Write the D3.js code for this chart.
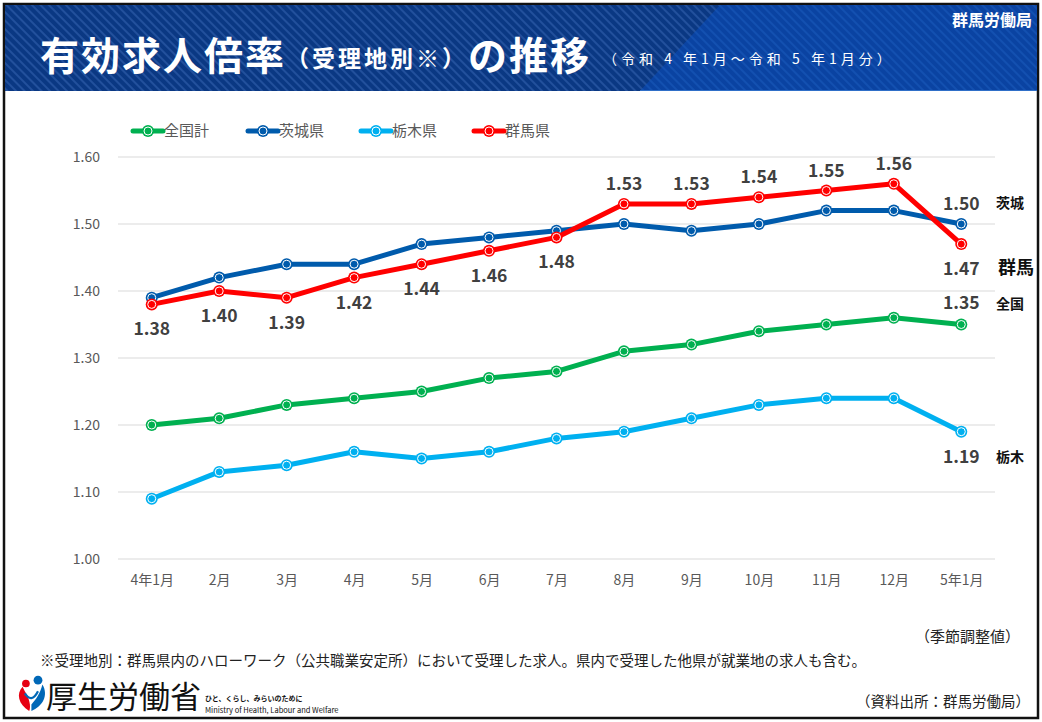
<!DOCTYPE html>
<html><head><meta charset="utf-8">
<script src="https://cdn.jsdelivr.net/npm/d3@7"></script>
<style>
html,body{margin:0;padding:0;background:#fff;}
svg{display:block;font-family:"Noto Sans CJK JP","Noto Sans",sans-serif;}
</style></head>
<body><svg id="c" width="1042" height="722"></svg>
<script>
const months = ["4年1月","2月","3月","4月","5月","6月","7月","8月","9月","10月","11月","12月","5年1月"];
const seriesNames = ["全国計","茨城県","栃木県","群馬県"];
const zenkoku = [1.20,1.21,1.23,1.24,1.25,1.27,1.28,1.31,1.32,1.34,1.35,1.36,1.35];
const ibaraki = [1.39,1.42,1.44,1.44,1.47,1.48,1.49,1.50,1.49,1.50,1.52,1.52,1.50];
const tochigi = [1.09,1.13,1.14,1.16,1.15,1.16,1.18,1.19,1.21,1.23,1.24,1.24,1.19];
const gunma   = [1.38,1.40,1.39,1.42,1.44,1.46,1.48,1.53,1.53,1.54,1.55,1.56,1.47];
const yTicks = [1.00,1.10,1.20,1.30,1.40,1.50,1.60];
const colors = ["#00B050","#005BAC","#00B0F0","#FF0000"];
const endNames = ["全国","茨城","栃木","群馬"];
// label placement for gunma: -1 below, 1 above
const gunmaLabelPos = [-1,-1,-1,-1,-1,-1,-1,1,1,1,1,1,-1];

const svg = d3.select("#c");
// frame
svg.append("rect").attr("x",4).attr("y",4).attr("width",1034).attr("height",714)
  .attr("fill","#fff").attr("stroke","#111").attr("stroke-width",2.5);

// header
const defs = svg.append("defs");
const pat = defs.append("pattern").attr("id","stripes").attr("patternUnits","userSpaceOnUse")
  .attr("width",6).attr("height",6).attr("patternTransform","rotate(-45)");
pat.append("rect").attr("width",6).attr("height",6).attr("fill","#0A3883");
pat.append("line").attr("x1",1).attr("y1",0).attr("x2",1).attr("y2",6).attr("stroke","#22509C").attr("stroke-width",2);
const pat2 = defs.append("pattern").attr("id","stripes2").attr("patternUnits","userSpaceOnUse")
  .attr("width",6).attr("height",6).attr("patternTransform","rotate(-45)");
pat2.append("rect").attr("width",6).attr("height",6).attr("fill","#0A43A2");
pat2.append("line").attr("x1",1).attr("y1",0).attr("x2",1).attr("y2",6).attr("stroke","#1350B0").attr("stroke-width",2);
svg.append("rect").attr("x",5).attr("y",5).attr("width",1032).attr("height",86).attr("fill","url(#stripes)");
svg.append("path").attr("d","M720,5 L1037,5 L1037,91 L640,91 Z").attr("fill","url(#stripes2)");
svg.append("line").attr("x1",640).attr("x2",1037).attr("y1",90.5).attr("y2",90.5).attr("stroke","#2f6fc8").attr("stroke-width",1);

const title = svg.append("text").attr("x",40).attr("y",70).attr("fill","#fff").attr("font-weight","bold");
title.append("tspan").attr("font-size",39).attr("letter-spacing",2).text("有効求人倍率");
title.append("tspan").attr("font-size",23).attr("letter-spacing",3).attr("dx",0).attr("dy",-3).text("（受理地別※）");
title.append("tspan").attr("font-size",39).attr("letter-spacing",2).attr("dy",3).text("の推移");
title.append("tspan").attr("font-size",14).attr("font-weight","normal").attr("dx",12).attr("letter-spacing",4).attr("dy",-6).text("（令和 4 年1月～令和 5 年1月分）");
svg.append("text").attr("x",1032).attr("y",26).attr("text-anchor","end").attr("fill","#fff")
  .attr("font-weight","bold").attr("font-size",16).text("群馬労働局");

// scales
const x = d3.scalePoint().domain(months).range([118,995]).padding(0.5);
const y = d3.scaleLinear().domain([1.0,1.6]).range([559,157]);

// grid
svg.append("g").selectAll("line").data(yTicks).join("line")
  .attr("x1",118).attr("x2",995).attr("y1",d=>y(d)).attr("y2",d=>y(d))
  .attr("stroke","#D9D9D9").attr("stroke-width",1);

// y axis
const yAxis = d3.axisLeft(y).tickValues(yTicks).tickFormat(d3.format(".2f")).tickSize(0).tickPadding(0);
const yg = svg.append("g").attr("transform","translate(100,0)").call(yAxis);
yg.select(".domain").remove();
yg.selectAll("text").attr("font-size",14).attr("fill","#595959").attr("font-family","'Noto Sans CJK JP',sans-serif");

// x axis
const xAxis = d3.axisBottom(x).tickSize(0).tickPadding(0);
const xg = svg.append("g").attr("transform","translate(0,575)").call(xAxis);
xg.select(".domain").remove();
xg.selectAll("text").attr("font-size",14).attr("fill","#595959").attr("font-family","'Noto Sans CJK JP',sans-serif");

// lines
const allSeries = [zenkoku,ibaraki,tochigi,gunma];
const line = d3.line().x((d,i)=>x(months[i])).y(d=>y(d));
allSeries.forEach((s,k)=>{
  const g = svg.append("g");
  g.append("path").attr("d",line(s)).attr("fill","none").attr("stroke",colors[k])
    .attr("stroke-width",5).attr("stroke-linejoin","round");
  g.selectAll("circle.o").data(s).join("circle").attr("class","o")
    .attr("cx",(d,i)=>x(months[i])).attr("cy",d=>y(d)).attr("r",6).attr("fill",colors[k]);
  g.selectAll("circle.i").data(s).join("circle").attr("class","i")
    .attr("cx",(d,i)=>x(months[i])).attr("cy",d=>y(d)).attr("r",4).attr("fill","none")
    .attr("stroke","#fff").attr("stroke-width",1);
});

// data labels
const lblStyle = sel => sel.attr("font-size",17.5).attr("font-weight","bold").attr("fill","#404040")
  .attr("text-anchor","middle").attr("font-family","'Noto Sans CJK JP',sans-serif");
svg.append("g").selectAll("text").data(gunma).join("text")
  .attr("x",(d,i)=>x(months[i]))
  .attr("y",(d,i)=>gunmaLabelPos[i]>0 ? y(d)-14 : y(d)+31)
  .text(d=>d.toFixed(2)).call(lblStyle);
const last = months.length-1;
const lastX = x(months[last]);
svg.append("text").attr("x",lastX).attr("y",y(ibaraki[last])-14).text(ibaraki[last].toFixed(2)).call(lblStyle);
svg.append("text").attr("x",lastX).attr("y",y(zenkoku[last])-16).text(zenkoku[last].toFixed(2)).call(lblStyle);
svg.append("text").attr("x",lastX).attr("y",y(tochigi[last])+31).text(tochigi[last].toFixed(2)).call(lblStyle);

// end names
const endG = svg.append("g").attr("font-weight","bold").attr("fill","#111");
endG.append("text").attr("x",996).attr("y",208).attr("font-size",14).text(endNames[1]);
endG.append("text").attr("x",998).attr("y",274).attr("font-size",18).text(endNames[3]);
endG.append("text").attr("x",996).attr("y",309).attr("font-size",14).text(endNames[0]);
endG.append("text").attr("x",996).attr("y",462).attr("font-size",14).text(endNames[2]);

// legend
const lx = [133,248,361,474];
seriesNames.forEach((n,k)=>{
  const g = svg.append("g").attr("transform",`translate(${lx[k]},131)`);
  g.append("line").attr("x1",0).attr("x2",30).attr("stroke",colors[k]).attr("stroke-width",5).attr("stroke-linecap","round");
  g.append("circle").attr("cx",15).attr("r",6).attr("fill",colors[k]);
  g.append("circle").attr("cx",15).attr("r",4).attr("fill","none").attr("stroke","#fff").attr("stroke-width",1);
  g.append("text").attr("x",31).attr("y",5).attr("font-size",15).attr("fill","#595959").text(n);
});

// footer
svg.append("text").attr("x",1020).attr("y",642).attr("text-anchor","end").attr("font-size",15).attr("fill","#222").text("（季節調整値）");
svg.append("text").attr("x",40).attr("y",666).attr("font-size",14.5).attr("fill","#222")
  .text("※受理地別：群馬県内のハローワーク（公共職業安定所）において受理した求人。県内で受理した他県が就業地の求人も含む。");
svg.append("text").attr("x",1030).attr("y",707).attr("text-anchor","end").attr("font-size",14.5).attr("fill","#222").text("（資料出所：群馬労働局）");

// logo
const logo = svg.append("g").attr("transform","translate(16,678) scale(1.1)");
logo.append("path").attr("d","M6,8 C0,14 2,24 12,30 C14,26 12,18 8,12 Z").attr("fill","#E60012");
logo.append("circle").attr("cx",9).attr("cy",5).attr("r",3.5).attr("fill","#E60012");
logo.append("path").attr("d","M14,30 C24,26 30,16 24,6 C22,14 18,20 14,24 Z").attr("fill","#0068B7");
logo.append("circle").attr("cx",20).attr("cy",2).attr("r",4).attr("fill","#0068B7");
logo.append("path").attr("d","M8,14 C12,20 16,20 20,12").attr("fill","none").attr("stroke","#0068B7").attr("stroke-width",2);
svg.append("text").attr("x",46).attr("y",708).attr("font-size",31).attr("fill","#111").text("厚生労働省");
svg.append("text").attr("x",205).attr("y",701).attr("font-size",7).attr("font-weight","bold").attr("fill","#111").text("ひと、くらし、みらいのために");
svg.append("text").attr("x",205).attr("y",713).attr("font-size",7.5).attr("fill","#111").text("Ministry of Health, Labour and Welfare");
</script></body></html>
